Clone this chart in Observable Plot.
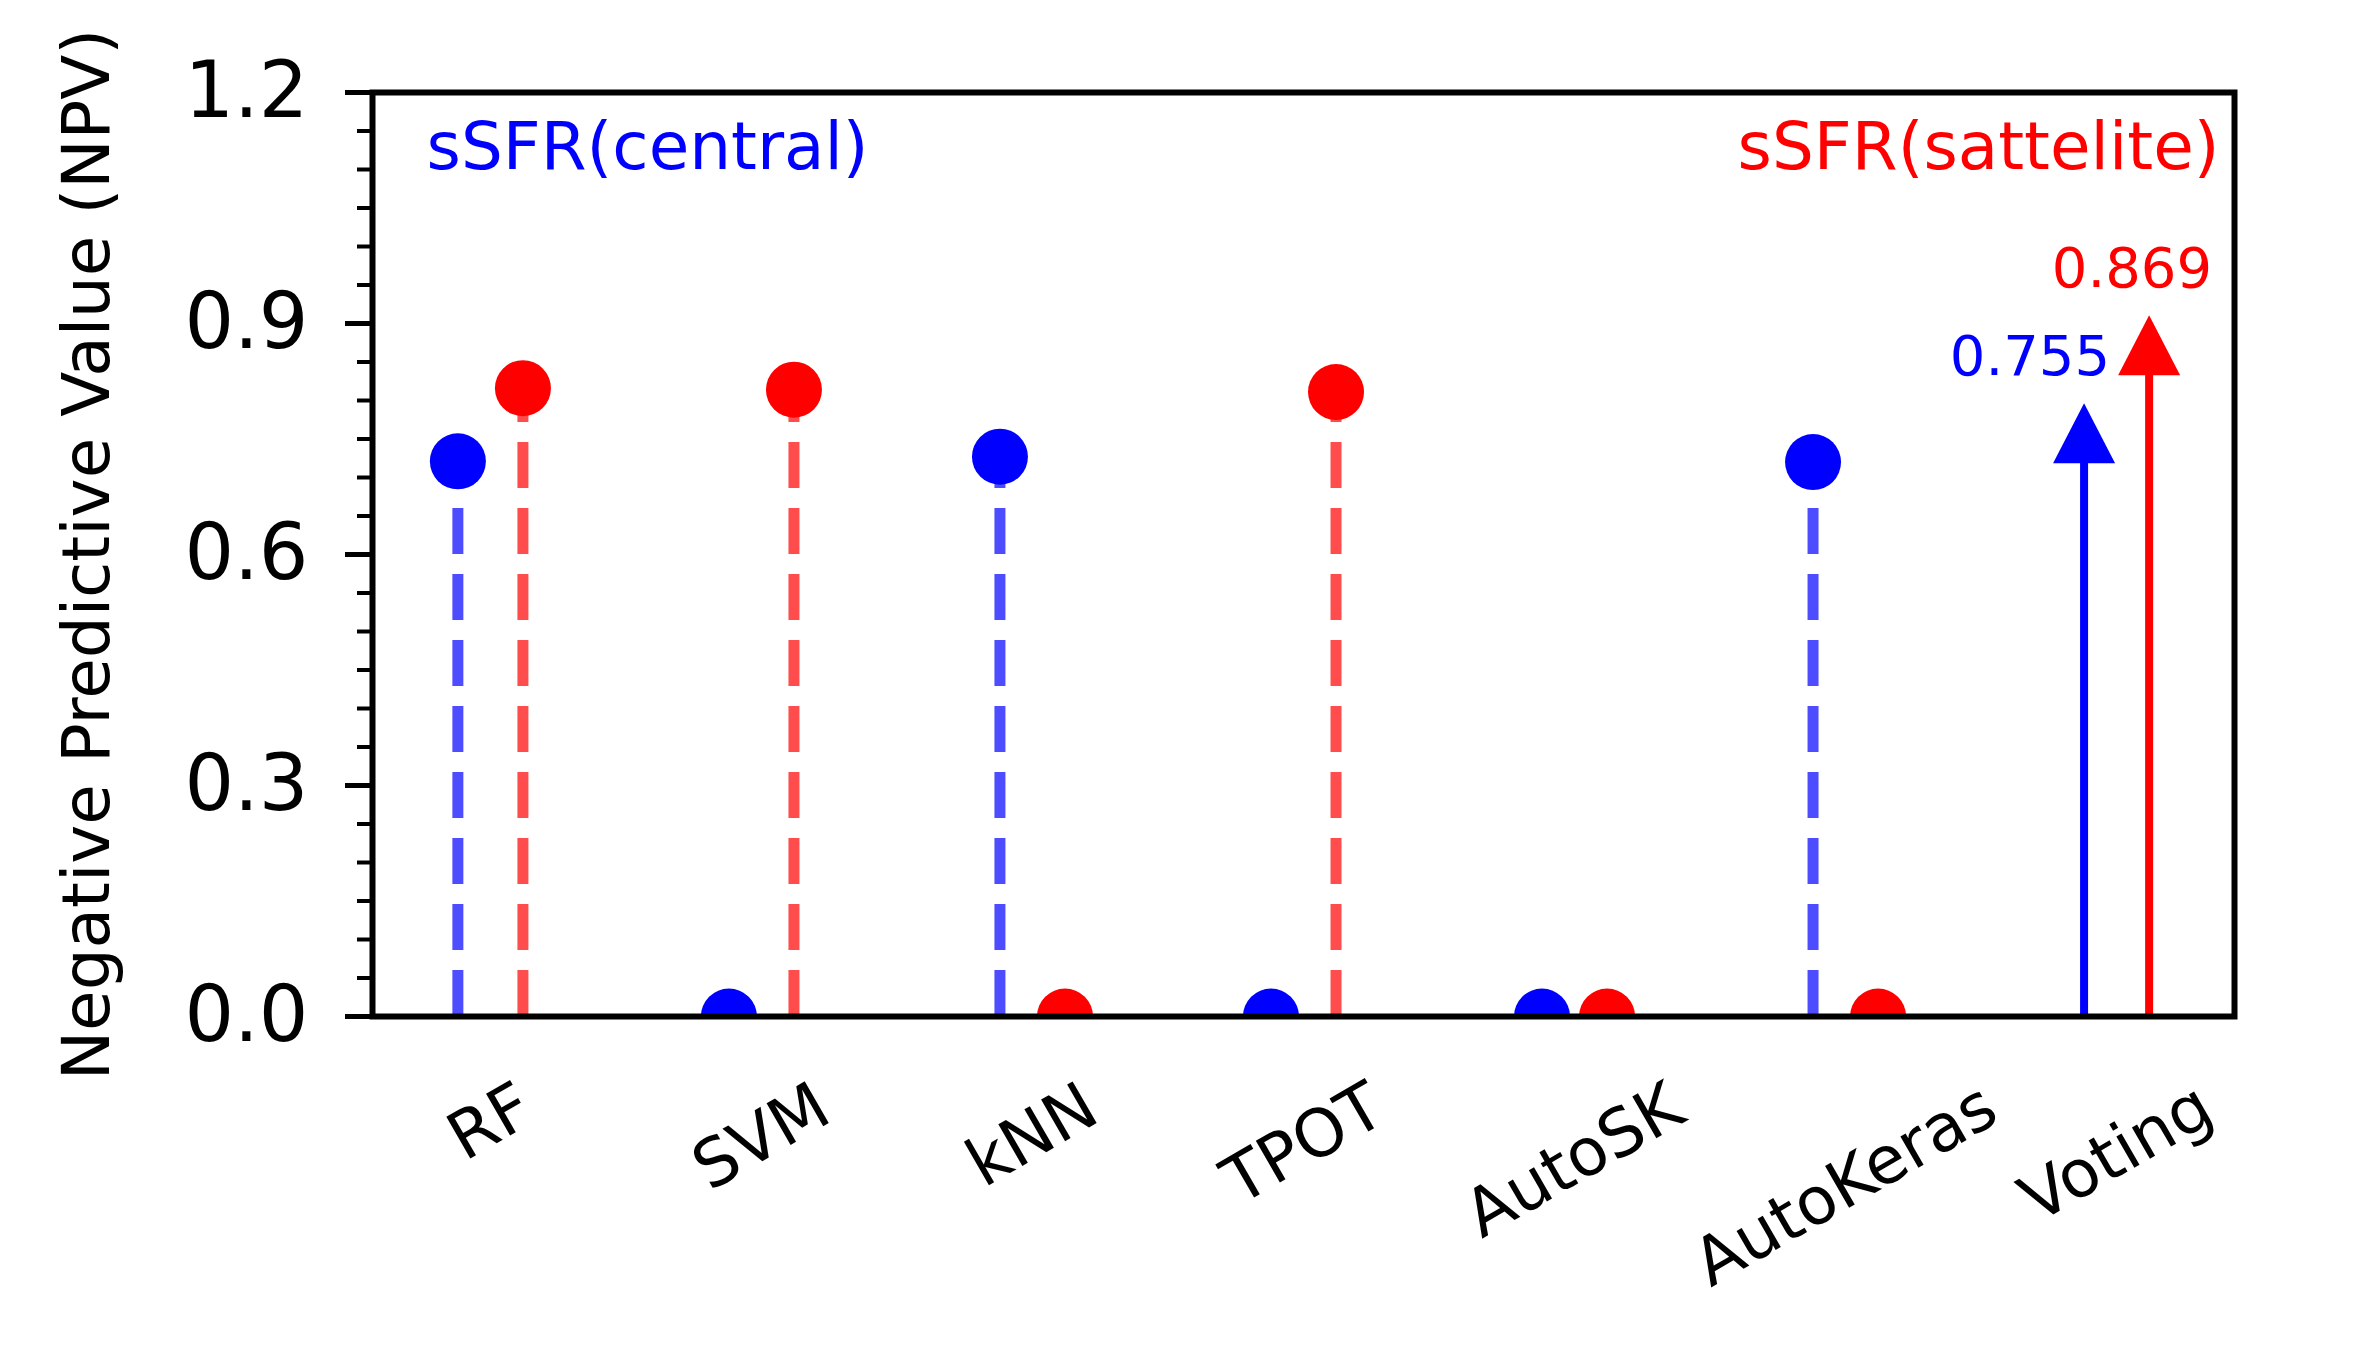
<!DOCTYPE html>
<html><head><meta charset="utf-8">
<script src="https://cdn.jsdelivr.net/npm/d3@7"></script>
<script src="https://cdn.jsdelivr.net/npm/@observablehq/plot@0.6"></script>
<style>html,body{margin:0;padding:0;background:#fff;} svg{display:block}</style>
</head><body><div id="chart"></div>
<script>
// ---- data ----
const models = ["RF", "SVM", "kNN", "TPOT", "AutoSK", "AutoKeras", "Voting"];
const centralNPV = [0.721, 0, 0.727, 0, 0, 0.720, 0.755];
const satelliteNPV = [0.816, 0.814, 0, 0.811, 0, 0, 0.869];
const yTicks = [0, 0.3, 0.6, 0.9, 1.2];
const yTickLabels = ["0.0", "0.3", "0.6", "0.9", "1.2"];
const seriesNames = ["sSFR(central)", "sSFR(sattelite)"];
const yLabel = "Negative Predictive Value (NPV)";

// ---- derived tables ----
const W = 2359, H = 1359;
const off = 0.12;
const votingIndex = models.indexOf("Voting");
const rows = [];
models.forEach((m, i) => {
  rows.push({model: m, i, series: "central", x: i - off, v: centralNPV[i]});
  rows.push({model: m, i, series: "satellite", x: i + off, v: satelliteNPV[i]});
});
const stems = rows.filter(d => d.i !== votingIndex);
const arrows = rows.filter(d => d.i === votingIndex);
const solid = {central: "#0000ff", satellite: "#ff0000"};
const faded = {central: "#4d4dff", satellite: "#ff4d4d"};
const minorTicks = d3.range(0, 1.2001, 0.05).filter(t => !yTicks.some(y => Math.abs(y - t) < 1e-6));

const arrowHead = {
  draw(ctx) {
    ctx.moveTo(0, -32);
    ctx.lineTo(31, 28);
    ctx.lineTo(-31, 28);
    ctx.closePath();
  }
};

const font = "DejaVu Sans";
const xFont = 66;
const cv = document.createElement("canvas").getContext("2d");
cv.font = `${xFont}px "${font}"`;

const xLabelMarks = models.map((m, i) => {
  const w = cv.measureText(m).width;
  return Plot.text([m], {
    x: () => i, y: () => 0, text: d => d,
    rotate: -30, textAnchor: "middle", lineAnchor: "middle",
    dy: 85 + w / 4, fontSize: xFont, fill: "black"
  });
});

const fmt = d3.format(".3f");

const chart = Plot.plot({
  width: W, height: H,
  marginLeft: 372, marginRight: 125, marginTop: 92, marginBottom: 343,
  style: {fontFamily: font, background: "white", overflow: "visible"},
  x: {type: "linear", domain: [-0.435, 6.435], axis: null},
  y: {domain: [0, 1.2], axis: null},
  marks: [
    Plot.ruleX(stems.filter(d => d.v > 0), {
      x: "x", y1: () => 0, y2: "v",
      stroke: d => faded[d.series], strokeWidth: 11, strokeDasharray: "46,20", clip: "frame"
    }),
    Plot.dot(stems, {
      x: "x", y: "v", r: 28, fill: d => solid[d.series], stroke: "none", clip: "frame"
    }),
    Plot.ruleX(arrows, {
      x: "x", y1: () => 0, y2: "v", stroke: d => solid[d.series], strokeWidth: 8
    }),
    Plot.dot(arrows, {
      x: "x", y: "v", symbol: arrowHead, r: 20, fill: d => solid[d.series], stroke: "none"
    }),
    Plot.text(arrows.filter(d => d.series === "central"), {
      x: "x", y: d => d.v + 0.078, text: d => fmt(d.v),
      textAnchor: "end", lineAnchor: "bottom", dx: 26, fontSize: 56, fill: solid.central
    }),
    Plot.text(arrows.filter(d => d.series === "satellite"), {
      x: "x", y: d => d.v + 0.078, text: d => fmt(d.v),
      textAnchor: "end", lineAnchor: "bottom", dx: 63, fontSize: 56, fill: solid.satellite
    }),
    Plot.text([seriesNames[0]], {
      frameAnchor: "top-left", text: d => d, textAnchor: "start", lineAnchor: "bottom",
      dx: 54, dy: 76, fontSize: 66, fill: solid.central
    }),
    Plot.text([seriesNames[1]], {
      frameAnchor: "top-right", text: d => d, textAnchor: "end", lineAnchor: "bottom",
      dx: -15, dy: 76, fontSize: 66, fill: solid.satellite
    }),
    Plot.axisY(yTicks, {
      anchor: "left", tickSize: 27, tickPadding: 37, fontSize: 78, strokeWidth: 5,
      tickFormat: d => yTickLabels[yTicks.indexOf(d)], label: null, fill: "black", stroke: "black"
    }),
    Plot.axisY(minorTicks, {
      anchor: "left", tickSize: 15, strokeWidth: 4, tickFormat: () => "", label: null, stroke: "black"
    }),
    Plot.text([yLabel], {
      frameAnchor: "left", text: d => d, rotate: -90, textAnchor: "middle", lineAnchor: "middle",
      dx: -285, fontSize: 66, fill: "black"
    }),
    ...xLabelMarks,
    Plot.frame({stroke: "black", strokeWidth: 6})
  ]
});
document.getElementById("chart").appendChild(chart);
</script>
</body></html>
